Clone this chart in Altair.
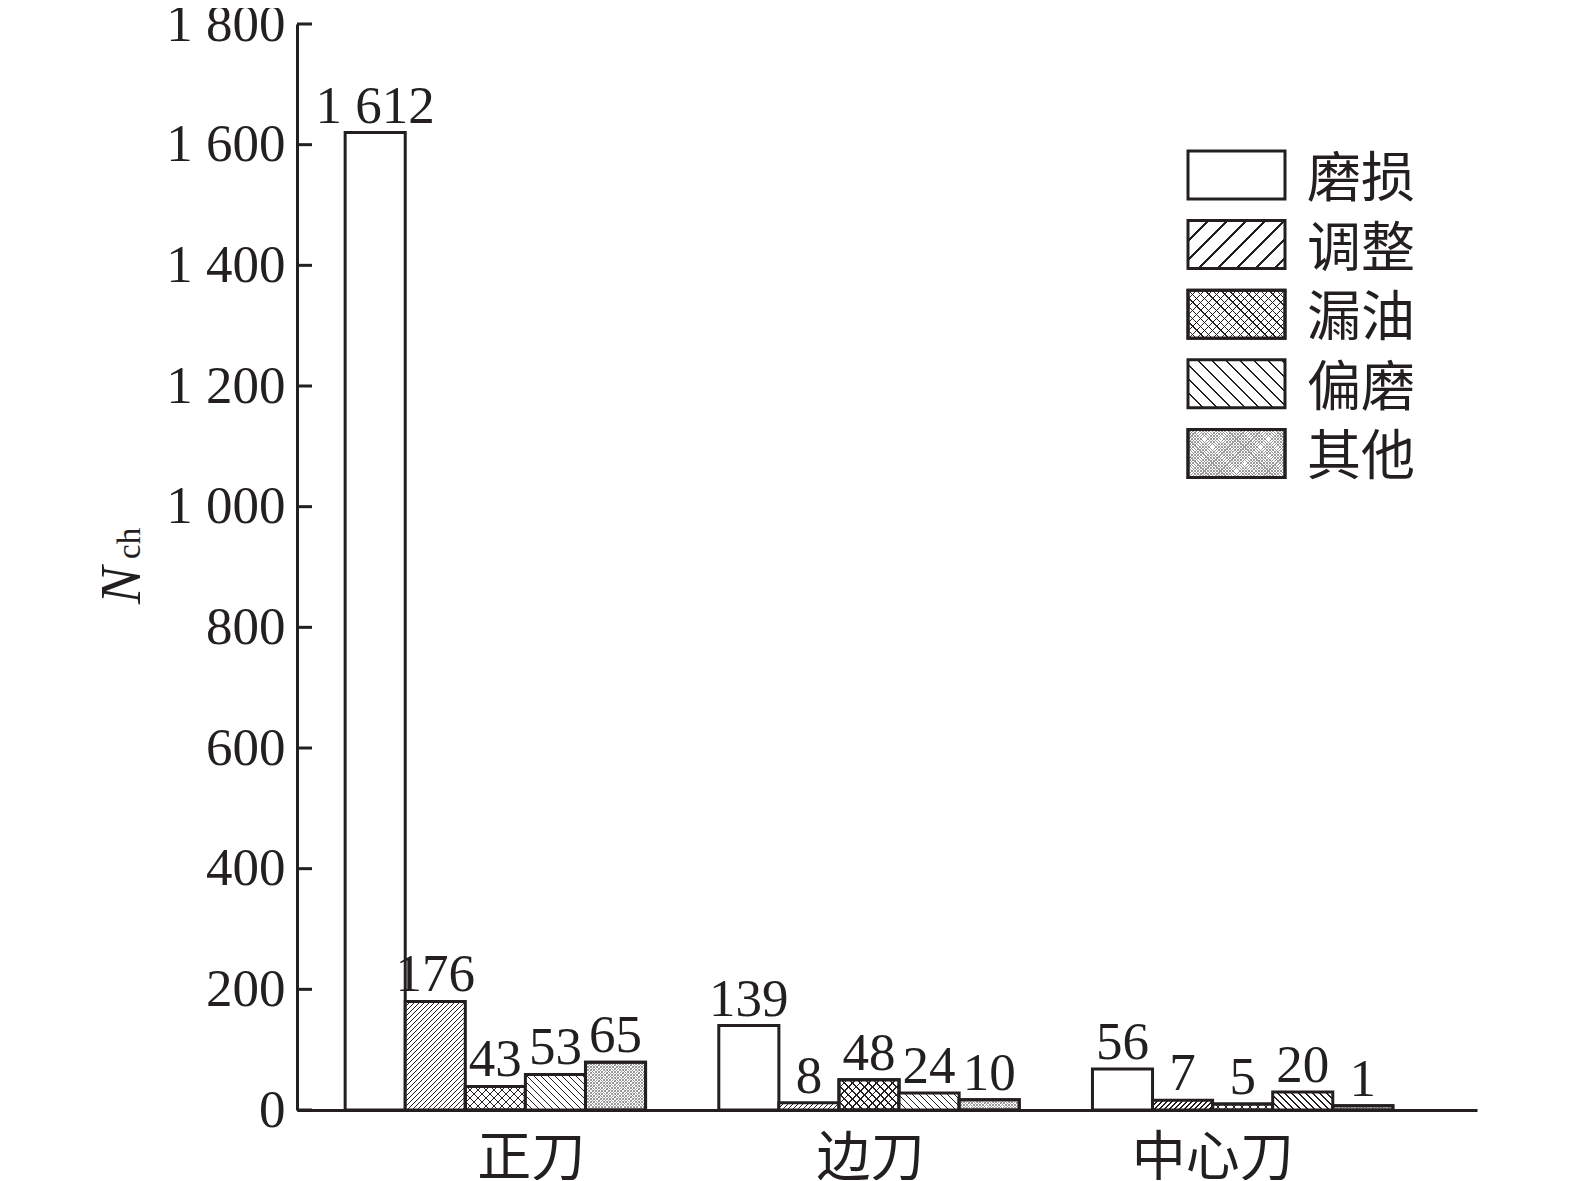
import altair as alt
import pandas as pd

# ---------------- data ----------------
groups = ["正刀", "边刀", "中心刀"]
cats = ["磨损", "调整", "漏油", "偏磨", "其他"]

# drawn bar heights
h_zhengdao = [1620, 180, 39, 59, 79]
h_biandao = [140, 12, 50, 28, 17]
h_zhongxin = [68, 16, 10, 30, 7]

# printed value labels
lab_zhengdao = ["1 612", "176", "43", "53", "65"]
lab_biandao = ["139", "8", "48", "24", "10"]
lab_zhongxin = ["56", "7", "5", "20", "1"]

tick_vals = [0, 200, 400, 600, 800, 1000, 1200, 1400, 1600, 1800]

rows = []
for g, hs, ls in zip(groups, [h_zhengdao, h_biandao, h_zhongxin],
                     [lab_zhengdao, lab_biandao, lab_zhongxin]):
    for c, h, l in zip(cats, hs, ls):
        rows.append({"group": g, "cat": c, "h": h, "label": l})
df = pd.DataFrame(rows)
df_ticks = pd.DataFrame({"t": tick_vals})

INK = "#231f20"
SERIF = "Liberation Serif"
CJK = "Noto Sans CJK SC"

# ---------------- pattern helpers (linear gradients with hard stops) ----------------
def grad(direction, period, lw, fg, bg, W, H, L=220):
    stops = []
    n = int(L // period) + 1
    for i in range(n):
        a = i * period
        b = a + lw
        c = (i + 1) * period
        for off, col in [(a, fg), (b, fg), (b, bg), (c, bg)]:
            o = min(off / L, 1.0)
            stops.append("{offset:%.4f,color:'%s'}" % (o, col))
    den = "((%s)*(%s)+(%s)*(%s))" % (W, W, H, H)
    x2 = "(%s)*%d/%s" % (W, L, den)
    if direction == "/":
        x1, y1 = "0", "0"
        y2 = "(%s)*%d/%s" % (H, L, den)
    else:
        x1, y1 = "0", "1"
        y2 = "1-(%s)*%d/%s" % (H, L, den)
    return "{gradient:'linear',x1:%s,y1:%s,x2:%s,y2:%s,stops:[%s]}" % (
        x1, y1, x2, y2, ",".join(stops))

CLEAR = "rgba(255,255,255,0)"
DOT = "#9a9a9a"
BW = "bandwidth('xOffset')"
BH = "(scale('y',0)-scale('y',datum.h))"

# ---------------- encodings ----------------
x_enc = alt.X(
    "group:N", sort=groups,
    scale=alt.Scale(domain=groups, paddingInner=0.196, paddingOuter=0.177, align=0.364),
    axis=alt.Axis(
        title=None, labelAngle=0, ticks=False, grid=False,
        domainColor=INK, domainWidth=3,
        labelFont=CJK, labelFontSize=54, labelColor=INK, labelPadding=22,
        labelOffset={"expr": "datum.value == '正刀' ? 36 : datum.value == '边刀' ? 1.5 : -30"},
    ),
)
xo_enc = alt.XOffset("cat:N", sort=cats,
                     scale=alt.Scale(domain=cats, paddingInner=0, paddingOuter=0))
y_scale = alt.Scale(domain=[0, 1800], nice=False)
y_axis = alt.Axis(
    title=None, values=tick_vals, ticks=False, grid=False,
    domainColor=INK, domainWidth=3,
    labelFont=SERIF, labelFontSize=53, labelColor=INK, labelPadding=12,
    labelExpr="replace(format(datum.value, ','), ',', ' ')",
)
y_enc = alt.Y("h:Q", scale=y_scale, axis=y_axis, stack=None)

base = alt.Chart(df)

def bars(cat, fill_expr=None, fill_color=None):
    fill = alt.value(fill_color) if fill_color else alt.value(alt.ExprRef(expr=fill_expr))
    return base.transform_filter(alt.datum.cat == cat).mark_bar(
        stroke=INK, strokeWidth=3
    ).encode(x=x_enc, xOffset=xo_enc, y=y_enc, fill=fill)

layers = [
    bars("磨损", fill_color="white"),
    bars("调整", grad("/", 5, 1.3, INK, "white", BW, BH)),
    bars("漏油", grad("/", 8, 1.2, INK, "white", BW, BH)),
    bars("漏油", grad("\\", 8, 1.2, INK, CLEAR, BW, BH)),
    bars("偏磨", grad("\\", 7, 1.4, INK, "white", BW, BH)),
    bars("其他", grad("/", 3.2, 1.0, DOT, "white", BW, BH)),
    bars("其他", grad("\\", 3.2, 1.0, DOT, CLEAR, BW, BH)),
]

labels = base.mark_text(
    font=SERIF, fontSize=53, color=INK, baseline="alphabetic", align="center", dy=-10
).encode(x=x_enc, xOffset=xo_enc, y=y_enc, text="label:N")
layers.append(labels)

ticks = alt.Chart(df_ticks).mark_rule(color=INK, strokeWidth=3).encode(
    y=alt.Y("t:Q", scale=y_scale, axis=y_axis),
    x=alt.value(0), x2=alt.value(15),
)
layers.append(ticks)

# y title: N_ch
title_df = pd.DataFrame({"s": ["N"]})
layers.append(alt.Chart(title_df).mark_text(
    font=SERIF, fontSize=56, fontStyle="italic", color=INK, angle=270,
    align="left", baseline="alphabetic"
).encode(x=alt.value(-157), y=alt.value(580), text="s:N"))
sub_df = pd.DataFrame({"s": ["ch"]})
layers.append(alt.Chart(sub_df).mark_text(
    font=SERIF, fontSize=33, color=INK, angle=270,
    align="left", baseline="alphabetic"
).encode(x=alt.value(-157), y=alt.value(535), text="s:N"))

# legend
LW, LH = 97, 48
leg_fills = {
    "磨损": [None],
    "调整": [grad("/", 19, 2.8, INK, "white", LW, LH)],
    "漏油": [grad("/", 8, 1.2, INK, "white", LW, LH), grad("\\", 8, 1.2, INK, CLEAR, LW, LH)],
    "偏磨": [grad("\\", 14, 2.4, INK, "white", LW, LH)],
    "其他": [grad("/", 3.2, 1.0, DOT, "white", LW, LH), grad("\\", 3.2, 1.0, DOT, CLEAR, LW, LH)],
}
for i, c in enumerate(cats):
    cy = 151 + i * 69.6
    ldf = pd.DataFrame({"cat": [c]})
    for fe in leg_fills[c]:
        fill = alt.value("white") if fe is None else alt.value(alt.ExprRef(expr=fe))
        layers.append(alt.Chart(ldf).mark_rect(stroke=INK, strokeWidth=3).encode(
            x=alt.value(891), x2=alt.value(891 + LW),
            y=alt.value(cy - LH / 2), y2=alt.value(cy + LH / 2),
            fill=fill,
        ))
    layers.append(alt.Chart(ldf).mark_text(
        font=CJK, fontSize=54, color=INK, align="left", baseline="middle"
    ).encode(x=alt.value(1010), y=alt.value(cy + 6), text="cat:N"))

chart = alt.layer(*layers).properties(
    width=1180, height=1086,
    padding={"left": 289, "top": 16, "right": 90, "bottom": 70},
    autosize=alt.AutoSizeParams(type="none"),
    background="white",
).configure_view(stroke=None)

chart.save("out.html", embed_options={"renderer": "svg", "actions": False})
